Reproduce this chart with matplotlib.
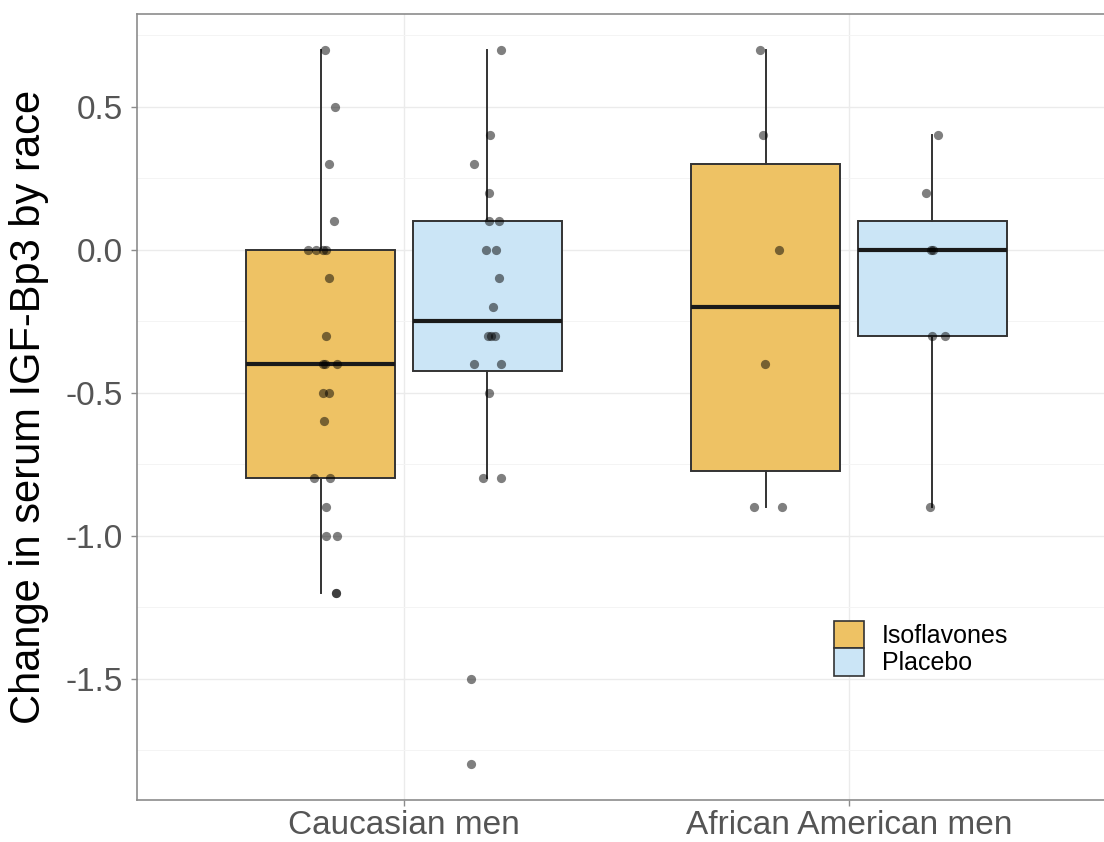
import matplotlib
matplotlib.use("Agg")
import matplotlib.pyplot as plt
from matplotlib.patches import Patch
from matplotlib.ticker import MultipleLocator

plt.rcParams['font.family'] = ['Liberation Sans', 'DejaVu Sans']

# ---- data ----
categories = ["Caucasian men", "African American men"]
groups = ["Isoflavones", "Placebo"]

cauc_iso = [0.7, 0.5, 0.3, 0.1, 0.0, 0.0, 0.0, 0.0, -0.1, -0.3, -0.4, -0.4, -0.4,
            -0.5, -0.5, -0.6, -0.8, -0.8, -0.9, -1.0, -1.0, -1.2, -1.2]
cauc_iso_jit = [14, 44, 25, 39, -38, -13, 6, 16, 24, 16, 7, 12, 49,
                7, 24, 10, -19, 27, 17, 17, 50, 46, 46]

cauc_pla = [0.7, 0.4, 0.3, 0.2, 0.1, 0.1, 0.0, 0.0, -0.1, -0.2, -0.3, -0.3, -0.3,
            -0.4, -0.4, -0.5, -0.8, -0.8, -1.5, -1.8]
cauc_pla_jit = [41, 9, -39, 6, 4, 36, -4, 25, 36, 17, 2, 12, 24,
                -40, 40, 4, -12, 42, -48, -48]

afr_iso = [0.7, 0.4, 0.0, -0.4, -0.9, -0.9]
afr_iso_jit = [-17, -7, 41, -2, -35, 49]

afr_pla = [0.4, 0.2, 0.0, 0.0, -0.3, -0.3, -0.9]
afr_pla_jit = [17, -18, -4, 3, 0, 37, -6]

fill_colors = {"Isoflavones": "#EEC264", "Placebo": "#CBE5F6"}

# ---- figure ----
W, H = 1104, 842
fig = plt.figure(figsize=(W / 100, H / 100), dpi=100)
ax = fig.add_axes([137 / W, (H - 800) / H, 979 / W, (800 - 14) / H])

dodge = 0.1875
box_w = 0.335
jit_scale = 1 / 1335.0  # zoomed-pixel offsets to data units

sets = [
    (1, "Isoflavones", cauc_iso, cauc_iso_jit),
    (1, "Placebo", cauc_pla, cauc_pla_jit),
    (2, "Isoflavones", afr_iso, afr_iso_jit),
    (2, "Placebo", afr_pla, afr_pla_jit),
]

for cat, grp, vals, jit in sets:
    pos = cat + (-dodge if grp == "Isoflavones" else dodge)
    ax.boxplot([vals], positions=[pos], widths=box_w, whis=1.5,
               showfliers=False, showcaps=False, patch_artist=True,
               manage_ticks=False, zorder=2,
               boxprops=dict(facecolor=fill_colors[grp], edgecolor="#333333", linewidth=1.4),
               whiskerprops=dict(color="#333333", linewidth=1.4),
               medianprops=dict(color="#1a1a1a", linewidth=3.0))
    xs = [pos + j * jit_scale for j in jit]
    ax.scatter(xs, vals, s=44, color="black", alpha=0.5, linewidths=0, zorder=3)

ax.set_xlim(0.4, 2.6)
ax.set_ylim(-1.925, 0.825)

ax.set_xticks([1, 2])
ax.set_xticklabels(categories)
ax.yaxis.set_minor_locator(MultipleLocator(0.25))
ax.set_yticks([0.5, 0.0, -0.5, -1.0, -1.5])
ax.set_yticklabels(["0.5", "0.0", "-0.5", "-1.0", "-1.5"])

ax.grid(True, which="major", color="#ebebeb", linewidth=1.0, zorder=0)
ax.grid(True, which="minor", axis="y", color="#f4f4f4", linewidth=0.7, zorder=0)
ax.set_axisbelow(True)

for s in ["left", "bottom", "top", "right"]:
    ax.spines[s].set_color("#8c8c8c")
    ax.spines[s].set_linewidth(1.2)

ax.tick_params(axis="both", which="major", length=4, width=1, color="#8c8c8c",
               labelsize=24, labelcolor="#555555", pad=6)
ax.tick_params(axis="x", which="major", pad=3)
ax.tick_params(axis="y", which="minor", length=0)

ax.set_ylabel("Change in serum IGF-Bp3 by race", fontsize=30, color="black", labelpad=12)

handles = [Patch(facecolor=fill_colors[g], edgecolor="#333333", linewidth=1.2, label=g) for g in groups]
ax.legend(handles=handles, loc="upper left",
          bbox_to_anchor=(834 / W, (H - 621) / H), bbox_transform=fig.transFigure,
          frameon=False, fontsize=18, handlelength=1.2, handleheight=1.3,
          labelspacing=0.0, handletextpad=0.7, borderpad=0, borderaxespad=0)

fig.savefig("out.png", dpi=100)
